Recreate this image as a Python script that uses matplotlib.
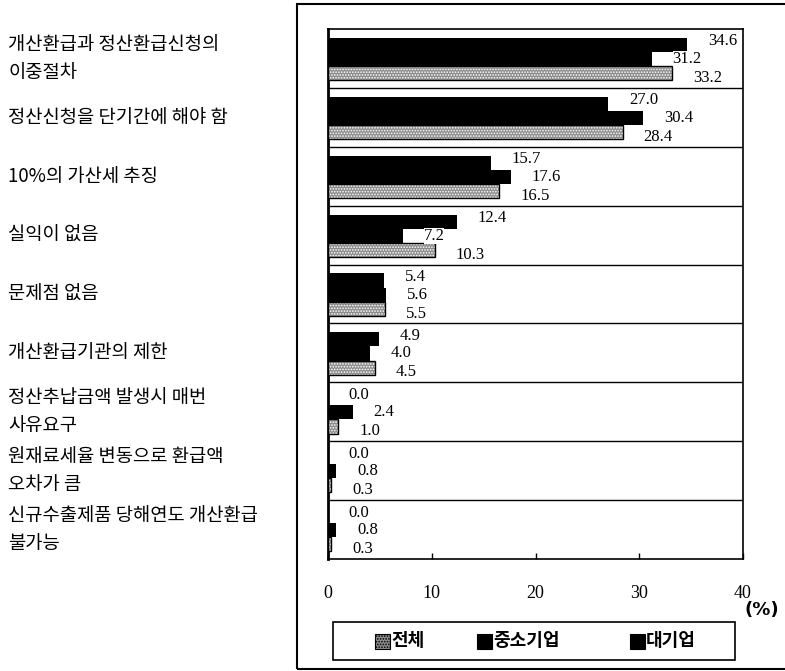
import matplotlib
matplotlib.use("Agg")
import matplotlib.pyplot as plt
import matplotlib.transforms as mtransforms
from matplotlib.patches import Rectangle
import numpy as np

plt.rcParams["font.family"] = ["Noto Sans CJK KR", "DejaVu Sans"]
plt.rcParams["hatch.color"] = "white"
plt.rcParams["hatch.linewidth"] = 0.8

categories = [
    "개산환급과 정산환급신청의\n이중절차",
    "정산신청을 단기간에 해야 함",
    "10%의 가산세 추징",
    "실익이 없음",
    "문제점 없음",
    "개산환급기관의 제한",
    "정산추납금액 발생시 매번\n사유요구",
    "원재료세율 변동으로 환급액\n오차가 큼",
    "신규수출제품 당해연도 개산환급\n불가능",
]
large_firms = [34.6, 27.0, 15.7, 12.4, 5.4, 4.9, 0.0, 0.0, 0.0]   # 대기업
small_firms = [31.2, 30.4, 17.6, 7.2, 5.6, 4.0, 2.4, 0.8, 0.8]    # 중소기업
overall = [33.2, 28.4, 16.5, 10.3, 5.5, 4.5, 1.0, 0.3, 0.3]       # 전체
x_ticks = [0, 10, 20, 30, 40]

GRAY = "#8c8c8c"
W, H = 785, 671
fig = plt.figure(figsize=(W / 100, H / 100), dpi=100)
ax = fig.add_axes([328 / W, 1 - 559 / H, (743 - 328) / W, (559 - 29) / H])

n = len(categories)
idx = np.arange(n)
bh = 0.24
offsets = [0.27, 0.51, 0.75]

ax.barh(idx + offsets[0], large_firms, height=bh, color="black", zorder=3)
ax.barh(idx + offsets[1], small_firms, height=bh, color="black", zorder=3)
ax.barh(idx + offsets[2], overall, height=bh, color=GRAY, hatch="......", zorder=3)
ax.barh(idx + offsets[2], overall, height=bh, fill=False, edgecolor="black",
        linewidth=1.0, zorder=4)

# value labels, fanned out a little so the three numbers stay readable
label_font = dict(family="Liberation Serif", fontsize=12)
label_dy = [2.5, 0, -3.5]
for vals, off, dy in zip([large_firms, small_firms, overall], offsets, label_dy):
    for i, v in enumerate(vals):
        ax.annotate(f"{v:.1f}", xy=(v, i + off), xytext=(15, dy),
                    textcoords="offset points", va="center", ha="left",
                    zorder=6, bbox=dict(facecolor="white", edgecolor="none", pad=0.0),
                    **label_font)

# band separators
for k in range(1, n):
    ax.axhline(k, color="black", linewidth=1.0, zorder=2)

ax.set_xlim(0, 40)
ax.set_ylim(n, 0)
ax.set_yticks([])
ax.set_xticks(x_ticks)
ax.set_xticklabels([str(t) for t in x_ticks], family="Liberation Serif", fontsize=13)
ax.tick_params(axis="x", direction="in", length=4, width=1, pad=19)
for side in ["left", "right", "top", "bottom"]:
    ax.spines[side].set_linewidth(1.2)
ax.spines["left"].set_linewidth(2)

# category labels on the left
trans = mtransforms.blended_transform_factory(fig.transFigure, ax.transData)
for i, name in enumerate(categories):
    ax.text(8 / W, i + 0.5, name, transform=trans, ha="left", va="center",
            fontsize=13.5, linespacing=1.45, clip_on=False)

fig.text(762 / W, 1 - 610 / H, "(%)", ha="center", va="center",
         fontsize=13, fontweight="bold", family="DejaVu Sans")

# legend box with its three entries
fig.patches.append(Rectangle((333 / W, 1 - 660 / H), (735 - 333) / W, (660 - 622) / H,
                             transform=fig.transFigure, facecolor="white",
                             edgecolor="black", linewidth=1.2))
legend_names = ["전체", "중소기업", "대기업"]
legend_faces = [GRAY, "black", "black"]
legend_x = [375, 477, 630]
sq = 15
for name, face, x0 in zip(legend_names, legend_faces, legend_x):
    fig.patches.append(Rectangle((x0 / W, 1 - (641 + sq / 2) / H), sq / W, sq / H,
                                 transform=fig.transFigure, facecolor=face,
                                 hatch="......" if face == GRAY else None,
                                 edgecolor="black", linewidth=0.8))
    fig.text((x0 + sq + 1) / W, 1 - 641 / H, name, ha="left", va="center",
             fontsize=13, fontweight="bold", family="Noto Sans CJK KR")

# outer frame
fig.patches.append(Rectangle((297 / W, 1 - 669 / H), 1.0, (669 - 4) / H,
                             transform=fig.transFigure, fill=False,
                             edgecolor="black", linewidth=1.5))

fig.savefig("out.png", dpi=100)
